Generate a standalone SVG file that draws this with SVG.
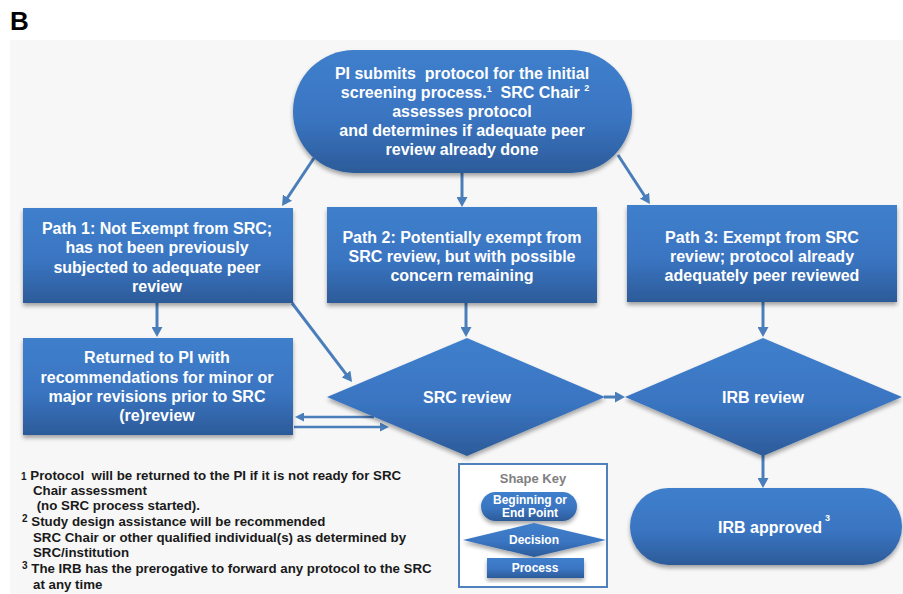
<svg xmlns="http://www.w3.org/2000/svg" width="903" height="594" viewBox="0 0 903 594">
<defs>
<linearGradient id="g" x1="0" y1="0" x2="0" y2="1">
<stop offset="0" stop-color="#3f7fcb"/>
<stop offset="0.55" stop-color="#3a75c2"/>
<stop offset="1" stop-color="#2c5b99"/>
</linearGradient>
<filter id="sh" x="-10%" y="-10%" width="120%" height="135%">
<feGaussianBlur in="SourceAlpha" stdDeviation="2"/>
<feOffset dy="3"/>
<feComponentTransfer><feFuncA type="linear" slope="0.35"/></feComponentTransfer>
<feMerge><feMergeNode/><feMergeNode in="SourceGraphic"/></feMerge>
</filter>
<marker id="ah" viewBox="0 0 10 11" markerWidth="10" markerHeight="11" refX="1" refY="5.5" orient="auto" markerUnits="userSpaceOnUse"><path d="M0,0L10,5.5L0,11z" fill="#4a7ebb"/></marker>
<marker id="ahs" viewBox="0 0 9 9" markerWidth="9" markerHeight="9" refX="1" refY="4.5" orient="auto" markerUnits="userSpaceOnUse"><path d="M0,0L9,4.5L0,9z" fill="#4a7ebb"/></marker>
</defs>
<style>
.n{fill:url(#g);filter:url(#sh);}
.t{font-family:"Liberation Sans",Arial,sans-serif;font-weight:bold;font-size:16px;fill:#fff;text-anchor:middle;}
.k{font-family:"Liberation Sans",Arial,sans-serif;font-weight:bold;font-size:12px;fill:#fff;text-anchor:middle;}
.c{stroke:#4a7ebb;stroke-width:3;fill:none;marker-end:url(#ah);}
.cs{stroke:#4a7ebb;stroke-width:2.5;fill:none;marker-end:url(#ahs);}
.f{font-family:"Liberation Sans",Arial,sans-serif;font-weight:bold;font-size:13.3px;fill:#1a1a1a;}
.sup{font-size:9px;}
.pre{white-space:pre;}
</style>
<rect x="0" y="0" width="903" height="594" fill="#ffffff"/>
<rect x="10" y="40" width="893" height="554" fill="#f7f7f7"/>
<text x="10" y="30" font-family="'Liberation Sans',Arial,sans-serif" font-weight="bold" font-size="26" fill="#000">B</text>

<g id="connectors">
<line class="c" x1="314" y1="158" x2="287" y2="198.5"/>
<line class="c" x1="462" y1="173" x2="462" y2="198"/>
<line class="c" x1="618" y1="155" x2="645" y2="196.5"/>
<line class="c" x1="157" y1="303" x2="157" y2="328"/>
<line class="c" x1="292" y1="303" x2="346.6" y2="374.8"/>
<line class="c" x1="466" y1="303" x2="466" y2="328"/>
<line class="c" x1="763" y1="302" x2="763" y2="328"/>
<line class="c" x1="604" y1="397" x2="616" y2="397"/>
<line class="cs" x1="374" y1="417" x2="303" y2="417"/>
<line class="cs" x1="294" y1="427" x2="381" y2="427"/>
<line class="c" x1="763" y1="455" x2="763" y2="479"/>
</g>

<g id="start">
<rect class="n" x="293" y="50" width="339" height="123" rx="61" ry="61"/>
<text class="t pre" x="462" y="79">PI submits  protocol for the initial</text>
<text class="t pre" x="465" y="98">screening process.<tspan class="sup" dy="-6">1</tspan><tspan dy="6">  SRC Chair </tspan><tspan class="sup" dy="-7">2</tspan></text>
<text class="t" x="462" y="117">assesses protocol</text>
<text class="t" x="462" y="136">and determines if adequate peer</text>
<text class="t" x="462" y="155">review already done</text>
</g>

<g id="path1">
<rect class="n" x="23" y="208" width="270" height="95"/>
<text class="t" x="157" y="234">Path 1: Not Exempt from SRC;</text>
<text class="t" x="157" y="253">has not been previously</text>
<text class="t" x="157" y="273">subjected to adequate peer</text>
<text class="t" x="157" y="292">review</text>
</g>

<g id="path2">
<rect class="n" x="327" y="207" width="270" height="96"/>
<text class="t" x="462" y="243">Path 2: Potentially exempt from</text>
<text class="t" x="462" y="262">SRC review, but with possible</text>
<text class="t" x="462" y="281">concern remaining</text>
</g>

<g id="path3">
<rect class="n" x="627" y="205" width="270" height="97"/>
<text class="t" x="762" y="243">Path 3: Exempt from SRC</text>
<text class="t" x="762" y="262">review; protocol already</text>
<text class="t" x="762" y="281">adequately peer reviewed</text>
</g>

<g id="returned">
<rect class="n" x="23" y="338" width="270" height="97"/>
<text class="t" x="157" y="363">Returned to PI with</text>
<text class="t" x="157" y="383">recommendations for minor or</text>
<text class="t" x="157" y="402">major revisions prior to SRC</text>
<text class="t" x="157" y="421">(re)review</text>
</g>

<g id="src-review">
<polygon class="n" points="467,338 605,397 467,456 327,397"/>
<text class="t" x="467" y="403">SRC review</text>
</g>

<g id="irb-review">
<polygon class="n" points="763,338 902,397 763,456 625,397"/>
<text class="t" x="763" y="403">IRB review</text>
</g>

<g id="irb-approved">
<rect class="n" x="630" y="488" width="272" height="77" rx="38.5" ry="38.5"/>
<text class="t" x="718" y="533" style="text-anchor:start">IRB approved<tspan class="sup" dx="3" dy="-12">3</tspan></text>
</g>

<g id="shape-key">
<rect x="459" y="464" width="148" height="123" fill="#ffffff" stroke="#4f81bd" stroke-width="2"/>
<text x="533" y="483" font-family="'Liberation Sans',Arial,sans-serif" font-weight="bold" font-size="13" fill="#808080" text-anchor="middle">Shape Key</text>
<rect class="n" x="481" y="492" width="96" height="29" rx="14.5" ry="14.5"/>
<text class="k" x="530" y="504">Beginning or</text>
<text class="k" x="530" y="517">End Point</text>
<polygon class="n" points="463,540 534,523 606,540 534,557"/>
<text class="k" x="534" y="544">Decision</text>
<rect class="n" x="487" y="558" width="97" height="20"/>
<text class="k" x="535" y="572">Process</text>
</g>

<g id="footnotes">
<text class="f pre" x="21" y="480"><tspan font-size="10">1</tspan> Protocol  will be returned to the PI if it is not ready for SRC</text>
<text class="f" x="33" y="495">Chair assessment</text>
<text class="f pre" x="33" y="510"> (no SRC process started).</text>
<text class="f" x="22" y="526"><tspan font-size="10" dy="-4">2</tspan><tspan dy="4"> Study design assistance will be recommended</tspan></text>
<text class="f" x="33" y="542">SRC Chair or other qualified individual(s) as determined by</text>
<text class="f" x="33" y="557">SRC/institution</text>
<text class="f" x="22" y="573"><tspan font-size="10" dy="-4">3</tspan><tspan dy="4"> The IRB has the prerogative to forward any protocol to the SRC</tspan></text>
<text class="f" x="33" y="589">at any time</text>
</g>
</svg>
